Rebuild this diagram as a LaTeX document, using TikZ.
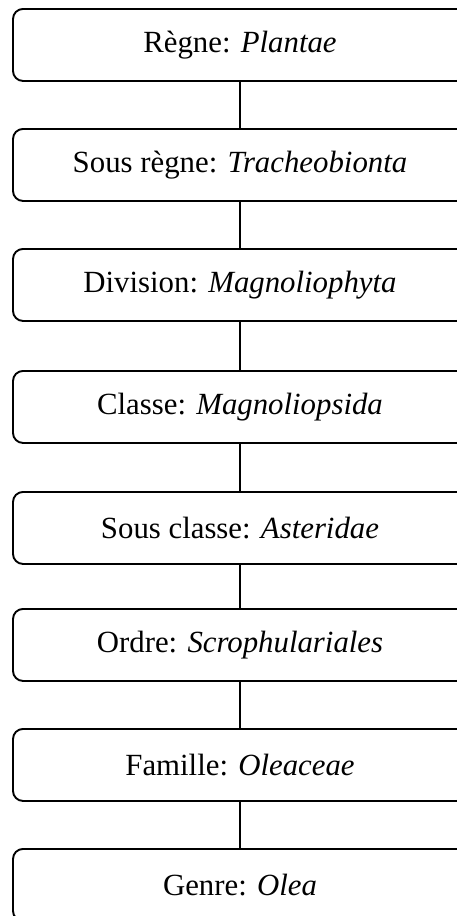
\documentclass[tikz,border=0pt]{standalone}
\usepackage{fontspec}
\setmainfont{Liberation Serif}
\begin{document}
\begin{tikzpicture}[x=1pt,y=1pt,
  taxbox/.style={draw=black, line width=1.9pt, rounded corners=10pt, minimum width=454pt, minimum height=72pt, inner sep=0pt, font=\fontsize{30.8}{36}\selectfont, anchor=north},
  link/.style={draw=black, line width=1.9pt}]
\useasboundingbox (0,0) rectangle (457,-916);
\node[taxbox] (b1) at (240,-8) {Règne: \textit{Plantae}};
\node[taxbox] (b2) at (240,-128) {Sous règne: \textit{Tracheobionta}};
\node[taxbox] (b3) at (240,-248) {Division: \textit{Magnoliophyta}};
\node[taxbox] (b4) at (240,-370) {Classe: \textit{Magnoliopsida}};
\node[taxbox] (b5) at (240,-491) {Sous classe: \textit{Asteridae}};
\node[taxbox] (b6) at (240,-608) {Ordre: \textit{Scrophulariales}};
\node[taxbox] (b7) at (240,-728) {Famille: \textit{Oleaceae}};
\node[taxbox] (b8) at (240,-848) {Genre: \textit{Olea}};
\draw[link] (b1.south) -- (b2.north);
\draw[link] (b2.south) -- (b3.north);
\draw[link] (b3.south) -- (b4.north);
\draw[link] (b4.south) -- (b5.north);
\draw[link] (b5.south) -- (b6.north);
\draw[link] (b6.south) -- (b7.north);
\draw[link] (b7.south) -- (b8.north);
\end{tikzpicture}
\end{document}
